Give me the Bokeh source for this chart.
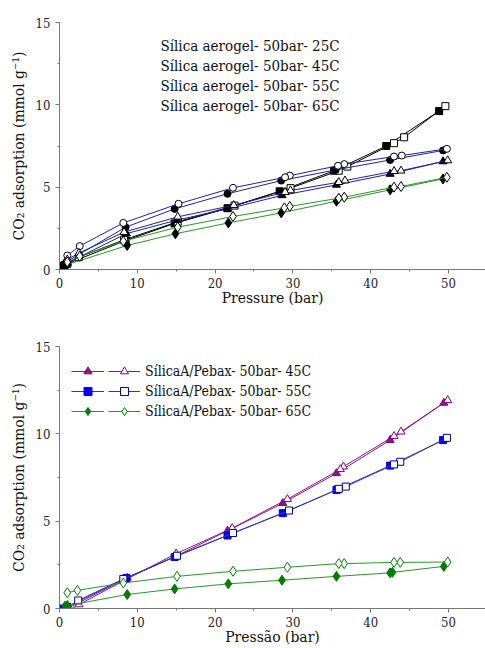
from bokeh.plotting import figure
from bokeh.layouts import column
from bokeh.models import Range1d, SingleIntervalTicker, Label, Legend, LegendItem
from bokeh.embed import file_html
from bokeh.resources import INLINE

FONT = "DejaVu Serif Condensed"

# ---------------- Top panel: Sílica aerogel (adsorption = filled, desorption = open)
top_labels = ["Sílica aerogel- 50bar- 25C", "Sílica aerogel- 50bar- 45C",
              "Sílica aerogel- 50bar- 55C", "Sílica aerogel- 50bar- 65C"]

sq_ads_p = [0.5, 1.0, 8.5, 14.8, 21.6, 28.3, 35.3, 42.0, 48.8]
sq_ads_v = [0.2, 0.35, 1.76, 2.8, 3.72, 4.75, 6.0, 7.5, 9.62]
sq_des_p = [49.6, 44.3, 43.0, 37.0, 35.9, 29.7, 22.5, 15.2, 8.3, 2.5, 1.0]
sq_des_v = [9.92, 8.03, 7.67, 6.25, 6.0, 4.94, 3.88, 2.9, 1.8, 0.75, 0.4]

ci_ads_p = [0.5, 1.0, 8.5, 14.8, 21.6, 28.5, 35.5, 42.5, 49.3]
ci_ads_v = [0.3, 0.5, 2.57, 3.68, 4.6, 5.4, 6.05, 6.65, 7.23]
ci_des_p = [49.8, 44.0, 43.0, 36.6, 35.8, 29.6, 29.0, 22.3, 15.3, 8.2, 2.6, 1.0]
ci_des_v = [7.33, 6.92, 6.86, 6.4, 6.3, 5.7, 5.6, 4.96, 3.99, 2.83, 1.42, 0.85]

tr_ads_p = [0.5, 1.0, 8.6, 15.1, 21.6, 28.6, 35.6, 42.5, 49.3]
tr_ads_v = [0.25, 0.4, 2.18, 3.0, 3.68, 4.5, 5.14, 5.8, 6.56]
tr_des_p = [49.9, 43.9, 43.0, 36.7, 35.9, 29.7, 29.0, 22.4, 15.2, 8.3, 2.5, 1.0]
tr_des_v = [6.62, 6.0, 5.97, 5.4, 5.3, 4.8, 4.7, 3.9, 3.2, 2.27, 1.0, 0.6]

di_ads_p = [0.5, 1.0, 8.7, 14.9, 21.7, 28.5, 35.6, 42.5, 49.3]
di_ads_v = [0.15, 0.3, 1.46, 2.17, 2.83, 3.44, 4.15, 4.84, 5.5]
di_des_p = [49.8, 43.9, 43.0, 36.6, 35.9, 29.6, 28.9, 22.3, 15.2, 8.2, 2.6, 1.0]
di_des_v = [5.6, 5.04, 5.0, 4.39, 4.33, 3.83, 3.74, 3.22, 2.57, 1.72, 0.8, 0.45]

# ---------------- Bottom panel: SílicaA/Pebax
bot_labels = ["SílicaA/Pebax- 50bar- 45C", "SílicaA/Pebax- 50bar- 55C",
              "SílicaA/Pebax- 50bar- 65C"]

pt_ads_p = [0.5, 1.0, 8.7, 15.0, 21.6, 28.7, 35.6, 42.5, 49.4]
pt_ads_v = [-0.05, 0.0, 1.75, 3.0, 4.45, 6.03, 7.74, 9.64, 11.77]
pt_des_p = [49.9, 43.9, 43.0, 36.5, 36.1, 29.3, 22.2, 15.0, 8.5, 2.5, 1.0]
pt_des_v = [11.92, 10.12, 9.87, 8.12, 7.97, 6.26, 4.6, 3.14, 1.65, 0.23, -0.15]

bs_ads_p = [0.5, 1.0, 8.6, 14.8, 21.6, 28.7, 35.6, 35.8, 42.5, 49.3]
bs_ads_v = [0.0, 0.1, 1.75, 2.95, 4.18, 5.46, 6.79, 6.83, 8.18, 9.64]
bs_des_p = [49.8, 43.8, 43.0, 36.8, 35.9, 29.5, 22.3, 15.1, 8.2, 2.4, 1.0]
bs_des_v = [9.77, 8.4, 8.25, 6.98, 6.85, 5.61, 4.32, 3.02, 1.69, 0.46, 0.05]

gd_ads_p = [0.7, 1.0, 8.7, 14.8, 21.7, 28.6, 35.6, 42.5, 42.8, 49.4]
gd_ads_v = [0.13, 0.17, 0.8, 1.12, 1.41, 1.62, 1.84, 2.04, 2.07, 2.41]
gd_des_p = [49.9, 43.8, 43.0, 36.6, 35.9, 29.3, 22.3, 15.1, 8.2, 2.3, 1.0]
gd_des_v = [2.66, 2.64, 2.64, 2.57, 2.57, 2.36, 2.13, 1.84, 1.46, 1.04, 0.9]

x_ticks_interval = 10
y_ticks_interval = 5


def make_fig(height, border_top, border_bottom, xlabel):
    p = figure(width=485, height=height, output_backend="svg", toolbar_location=None,
               x_range=Range1d(0, 54.76), y_range=Range1d(0, 15),
               min_border_left=59, min_border_right=0, min_border_top=border_top,
               min_border_bottom=border_bottom)
    p.outline_line_color = None
    p.grid.visible = False
    p.xaxis.ticker = SingleIntervalTicker(interval=x_ticks_interval, num_minor_ticks=2)
    p.yaxis.ticker = SingleIntervalTicker(interval=y_ticks_interval, num_minor_ticks=2)
    for ax in (p.xaxis[0], p.yaxis[0]):
        ax.axis_line_color = "#777777"
        ax.major_tick_line_color = "#777777"
        ax.minor_tick_line_color = "#777777"
        ax.major_tick_in = 0
        ax.major_tick_out = 4
        ax.minor_tick_in = 0
        ax.minor_tick_out = 2
        ax.major_label_text_font = FONT
        ax.major_label_text_font_size = "13px"
        ax.major_label_text_color = "#222222"
        ax.axis_label_text_font = FONT
        ax.axis_label_text_font_size = "15.5px"
        ax.axis_label_text_font_style = "normal"
        ax.axis_label_text_color = "#111111"
    p.xaxis.major_label_standoff = 4
    p.xaxis.axis_label_standoff = -2
    p.yaxis.major_label_standoff = 5
    p.yaxis.axis_label_standoff = 5
    p.xaxis.axis_label = xlabel
    p.yaxis.axis_label = "CO₂ adsorption (mmol g⁻¹)"
    return p


def series(p, xs, ys, marker, size, line_color, fill, mline):
    ln = p.line(xs, ys, line_color=line_color, line_width=1)
    sc = p.scatter(xs, ys, marker=marker, size=size, fill_color=fill,
                   line_color=mline, line_width=1)
    return ln, sc


# ---- top figure
p1 = make_fig(320, 22, 51, "Pressure (bar)")
BLUE_T = "#2222a0"
GREEN_T = "#2a962a"
series(p1, sq_ads_p, sq_ads_v, "square", 7, "black", "black", "black")
series(p1, sq_des_p, sq_des_v, "square", 7, "black", "white", "black")
series(p1, ci_ads_p, ci_ads_v, "circle", 7, BLUE_T, "black", "black")
series(p1, ci_des_p, ci_des_v, "circle", 7, BLUE_T, "white", "black")
series(p1, tr_ads_p, tr_ads_v, "triangle", 8, BLUE_T, "black", "black")
series(p1, tr_des_p, tr_des_v, "triangle", 8, BLUE_T, "white", "black")
series(p1, di_ads_p, di_ads_v, "diamond", 10, GREEN_T, "black", "black")
series(p1, di_des_p, di_des_v, "diamond", 10, GREEN_T, "white", "black")

for i, t in enumerate(top_labels):
    p1.add_layout(Label(x=101, y=224 - 20 * i, x_units="screen", y_units="screen",
                        text=t, text_font=FONT, text_font_size="15px",
                        text_baseline="middle", text_color="#111111"))

# ---- bottom figure
p2 = make_fig(328, 26, 39, "Pressão (bar)")
specs = [
    (pt_ads_p, pt_ads_v, pt_des_p, pt_des_v, "triangle", 8, "#8b168b", "#8b168b", "#800080", "#8b168b", "#800080"),
    (bs_ads_p, bs_ads_v, bs_des_p, bs_des_v, "square", 7, "#2b2bf0", "#0000ff", "#0000ff", "#3a3a9a", "#000090"),
    (gd_ads_p, gd_ads_v, gd_des_p, gd_des_v, "diamond", 10, "#2a962a", "#007a00", "#007a00", "#2a962a", "#008000"),
]
items_a, items_b = [], []
for (ap, av, dp, dv, mk, sz, lca, fa, ma, lcd, md), lab in zip(specs, bot_labels):
    la, sa = series(p2, ap, av, mk, sz, lca, fa, ma)
    ld, sd = series(p2, dp, dv, mk, sz, lcd, "white", md)
    items_a.append(LegendItem(label="", renderers=[la, sa]))
    items_b.append(LegendItem(label=lab, renderers=[ld, sd]))

common = dict(border_line_color=None, background_fill_alpha=0, padding=0, margin=0,
              spacing=0, glyph_height=20, label_height=20,
              label_text_font=FONT, label_text_font_size="14px", label_text_color="#111111")
leg_a = Legend(items=items_a, location=(12, 187), glyph_width=33, label_standoff=0,
               label_width=0, **common)
leg_b = Legend(items=items_b, location=(49, 187), glyph_width=32, label_standoff=5,
               **common)
p2.add_layout(leg_a)
p2.add_layout(leg_b)

layout = column(p1, p2, spacing=0)
open("out.html", "w").write(file_html(layout, INLINE))
